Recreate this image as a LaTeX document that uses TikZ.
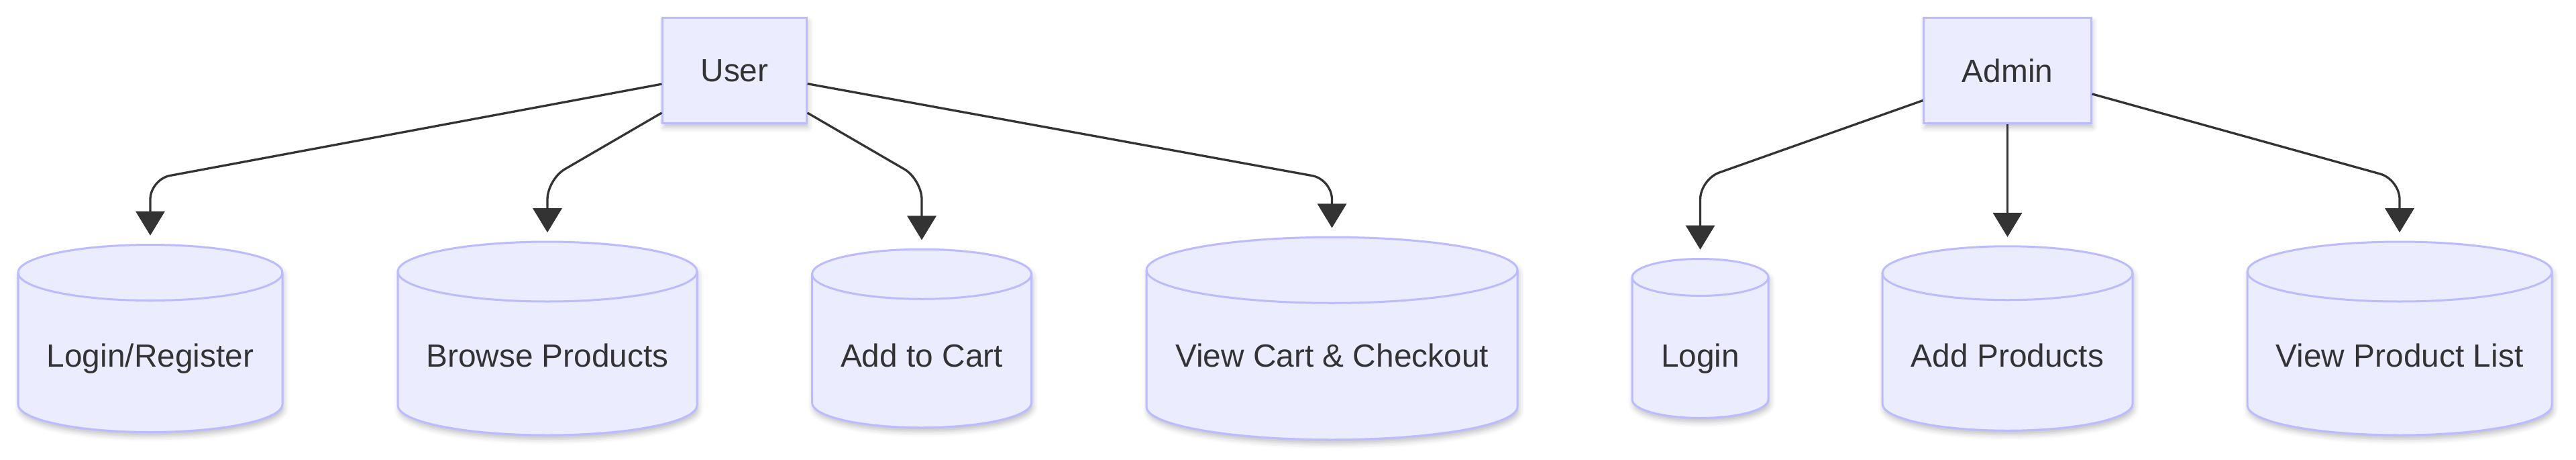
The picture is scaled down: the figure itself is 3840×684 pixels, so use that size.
\documentclass[tikz,border=0pt]{standalone}
\usepackage{fontspec}
\setmainfont{Liberation Sans}
\usepackage{xcolor}
\usepackage{tikz}
\usetikzlibrary{positioning,arrows.meta,shadows.blur}

\definecolor{nodefill}{HTML}{ECECFF}
\definecolor{nodeline}{HTML}{BBBBFF}
\definecolor{edgeline}{HTML}{333333}
\definecolor{textcol}{HTML}{333333}

% cylinder: name, x, half width, ellipse radius, text
\newcommand{\dbnode}[5]{%
  \pgfmathsetmacro{\dbh}{(154.5+3*#4)/2}
  \draw[dbshape] (#2-#3,180+\dbh-#4) -- (#2-#3,180-\dbh+#4)
    arc[start angle=180,end angle=360,x radius=#3,y radius=#4]
    -- (#2+#3,180+\dbh-#4)
    arc[start angle=0,end angle=180,x radius=#3,y radius=#4] -- cycle;
  \draw[dbrim] (#2-#3,180+\dbh-#4)
    arc[start angle=180,end angle=360,x radius=#3,y radius=#4];
  \node (#1) [dbarea, minimum width=0.02cm*#3, minimum height=0.02cm*\dbh] at (#2,180) {#5};
}

\begin{document}
\begin{tikzpicture}[
x=0.01cm, y=0.01cm,
every node/.style={
    font=\fontsize{13.6}{16}\selectfont,
    text=textcol,
    align=center
},
box/.style={
    draw=nodeline,
    fill=nodefill,
    line width=0.03cm,
    minimum height=1.56cm,
    blur shadow={shadow xshift=0.02cm, shadow yshift=-0.06cm, shadow blur radius=0.08cm, shadow opacity=25}
},
dbshape/.style={
    draw=nodeline,
    fill=nodefill,
    line width=0.03cm,
    blur shadow={shadow xshift=0.02cm, shadow yshift=-0.06cm, shadow blur radius=0.08cm, shadow opacity=25}
},
dbrim/.style={draw=nodeline, line width=0.03cm},
dbarea/.style={inner sep=0pt, text height=0.94cm, text depth=0.1cm},
arrow/.style={
    -{Triangle[length=0.36cm,width=0.43cm]},
    draw=edgeline,
    line width=0.033cm,
    rounded corners=0.3cm,
    shorten >=0.13cm
}
]
\useasboundingbox (0,0) rectangle (3840,684);

\node (user) [box, minimum width=2.14cm] at (1095,579) {User};
\node (admin) [box, minimum width=2.49cm] at (2992.5,579) {Admin};

\dbnode{login}{224}{197}{41.5}{Login/Register}
\dbnode{browse}{816}{223}{44.5}{Browse Products}
\dbnode{cart}{1374}{163.5}{37}{Add to Cart}
\dbnode{checkout}{1985.5}{276.5}{49}{View Cart \& Checkout}
\dbnode{alogin}{2534.5}{101.5}{27.5}{Login}
\dbnode{addprod}{2992.5}{186.5}{40}{Add Products}
\dbnode{prodlist}{3577}{227}{44.5}{View Product List}

\coordinate (bend) at (0,417);

\draw[arrow] (user) -- (login |- bend) -- (login);
\draw[arrow] (user) -- (browse |- bend) -- (browse);
\draw[arrow] (user) -- (cart |- bend) -- (cart);
\draw[arrow] (user) -- (checkout |- bend) -- (checkout);
\draw[arrow] (admin) -- (alogin |- bend) -- (alogin);
\draw[arrow] (admin) -- (addprod);
\draw[arrow] (admin) -- (prodlist |- bend) -- (prodlist);

\end{tikzpicture}
\end{document}
